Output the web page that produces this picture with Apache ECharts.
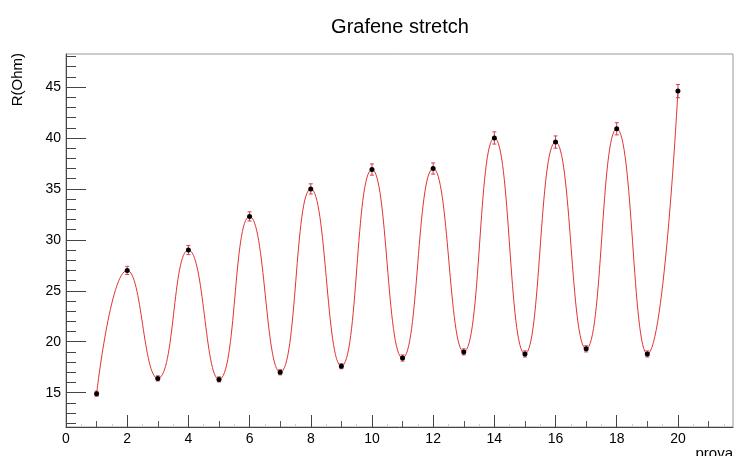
<!DOCTYPE html>
<html>
<head>
<meta charset="utf-8">
<script src="https://cdn.jsdelivr.net/npm/echarts@6/dist/echarts.min.js"></script>
<style>
  html, body { margin: 0; padding: 0; background: #fff; }
  #chart { width: 735px; height: 456px; }
</style>
</head>
<body>
<div id="chart"></div>
<script>
const prova = [1, 2, 3, 4, 5, 6, 7, 8, 9, 10, 11, 12, 13, 14, 15, 16, 17, 18, 19, 20];
const resistance = [14.9, 27.0, 16.4, 29.0, 16.3, 32.3, 17.0, 35.0, 17.6, 36.9,
                    18.4, 37.0, 19.0, 40.0, 18.8, 39.6, 19.3, 40.9, 18.8, 44.6];
const resistanceErr = [0.25, 0.4, 0.25, 0.45, 0.25, 0.45, 0.25, 0.5, 0.25, 0.55,
                       0.3, 0.55, 0.3, 0.6, 0.3, 0.6, 0.3, 0.6, 0.3, 0.65];

// axis ticks
const yTickLabels = [15, 20, 25, 30, 35, 40, 45];
const yMinorTicks = [12, 13, 14, 16, 17, 18, 19, 21, 22, 23, 24, 26, 27, 28, 29, 31, 32, 33, 34,
                     36, 37, 38, 39, 41, 42, 43, 44, 46, 47, 48];
const xTickLabels = [0, 2, 4, 6, 8, 10, 12, 14, 16, 18, 20];
const xMinorTicks = [1, 3, 5, 7, 9, 11, 13, 15, 17, 19, 21];
const xTinyTicks = [0.5, 1.5, 2.5, 3.5, 4.5, 5.5, 6.5, 7.5, 8.5, 9.5, 10.5,
                    11.5, 12.5, 13.5, 14.5, 15.5, 16.5, 17.5, 18.5, 19.5, 20.5, 21.5];

const xMin = 0, xMax = 21.8;
const yMin = 11.63, yMax = 48.24;
const font = "'Liberation Sans', Arial, sans-serif";

const chart = echarts.init(document.getElementById("chart"), null, { renderer: "canvas" });

function tickAxis(values, len, color) {
  return {
    type: "value",
    min: xMin,
    max: xMax,
    position: "bottom",
    axisLine: { show: false },
    axisLabel: { show: false },
    splitLine: { show: false },
    axisTick: { show: true, inside: true, length: len, customValues: values,
                lineStyle: { color: color, width: 1 } }
  };
}

const points = prova.map((x, i) => [x, resistance[i]]);
const errData = prova.map((x, i) => [x, resistance[i], resistanceErr[i]]);

chart.setOption({
  animation: false,
  backgroundColor: "#fff",
  textStyle: { fontFamily: font },
  title: {
    text: "Grafene stretch",
    left: 395,
    top: 12,
    textAlign: "center",
    textStyle: { fontFamily: font, fontSize: 20, fontWeight: "normal", color: "#000" }
  },
  grid: {
    left: 66, right: 2, top: 54, bottom: 29,
    outerBoundsMode: "none",
    containLabel: false,
    show: true, borderColor: "#999", borderWidth: 1, backgroundColor: "transparent"
  },
  xAxis: [
    {
      type: "value",
      min: xMin,
      max: xMax,
      position: "bottom",
      name: "prova",
      nameLocation: "end",
      nameGap: 0,
      nameTextStyle: { fontFamily: font, fontSize: 15, color: "#000", align: "right",
                       verticalAlign: "top", padding: [19, 0, 0, 0] },
      axisLine: { show: true, onZero: false, lineStyle: { color: "#444", width: 1 } },
      axisLabel: { customValues: xTickLabels, margin: 5, fontSize: 14, color: "#000", fontFamily: font },
      axisTick: { inside: true, length: 12, customValues: xTickLabels,
                  lineStyle: { color: "#444", width: 1 } },
      splitLine: { show: false }
    },
    tickAxis(xMinorTicks, 6, "#555"),
    tickAxis(xTinyTicks, 3, "#ccc")
  ],
  yAxis: [
    {
      type: "value",
      min: yMin,
      max: yMax,
      position: "left",
      axisLine: { show: true, onZero: false, lineStyle: { color: "#444", width: 1 } },
      axisLabel: { customValues: yTickLabels, margin: 5, fontSize: 14, color: "#000", fontFamily: font },
      axisTick: { inside: true, length: 20, customValues: yTickLabels,
                  lineStyle: { color: "#444", width: 1 } },
      splitLine: { show: false }
    },
    {
      type: "value",
      min: yMin,
      max: yMax,
      position: "left",
      axisLine: { show: false },
      axisLabel: { show: false },
      splitLine: { show: false },
      axisTick: { show: true, inside: true, length: 10, customValues: yMinorTicks,
                  lineStyle: { color: "#444", width: 1 } }
    }
  ],
  graphic: [
    {
      type: "text",
      x: 18,
      y: 53,
      rotation: Math.PI / 2,
      style: { text: "R(Ohm)", fontFamily: font, fontSize: 15, fill: "#000",
               align: "right", verticalAlign: "middle" }
    }
  ],
  series: [
    {
      type: "line",
      data: points,
      smooth: 0.5,
      symbol: "circle",
      symbolSize: 5,
      showSymbol: true,
      lineStyle: { color: "#e03535", width: 1 },
      itemStyle: { color: "#000", borderColor: "#000", borderWidth: 0 },
      z: 3
    },
    {
      type: "custom",
      data: errData,
      z: 2,
      renderItem: function (params, api) {
        const x = api.value(0);
        const y = api.value(1);
        const e = api.value(2);
        const lo = api.coord([x, y - e]);
        const hi = api.coord([x, y + e]);
        const cap = 2;
        const style = { stroke: "#d04050", lineWidth: 1 };
        return {
          type: "group",
          children: [
            { type: "line", shape: { x1: lo[0], y1: lo[1], x2: hi[0], y2: hi[1] }, style: style },
            { type: "line", shape: { x1: lo[0] - cap, y1: lo[1], x2: lo[0] + cap, y2: lo[1] }, style: style },
            { type: "line", shape: { x1: hi[0] - cap, y1: hi[1], x2: hi[0] + cap, y2: hi[1] }, style: style }
          ]
        };
      }
    }
  ]
});
</script>
</body>
</html>
